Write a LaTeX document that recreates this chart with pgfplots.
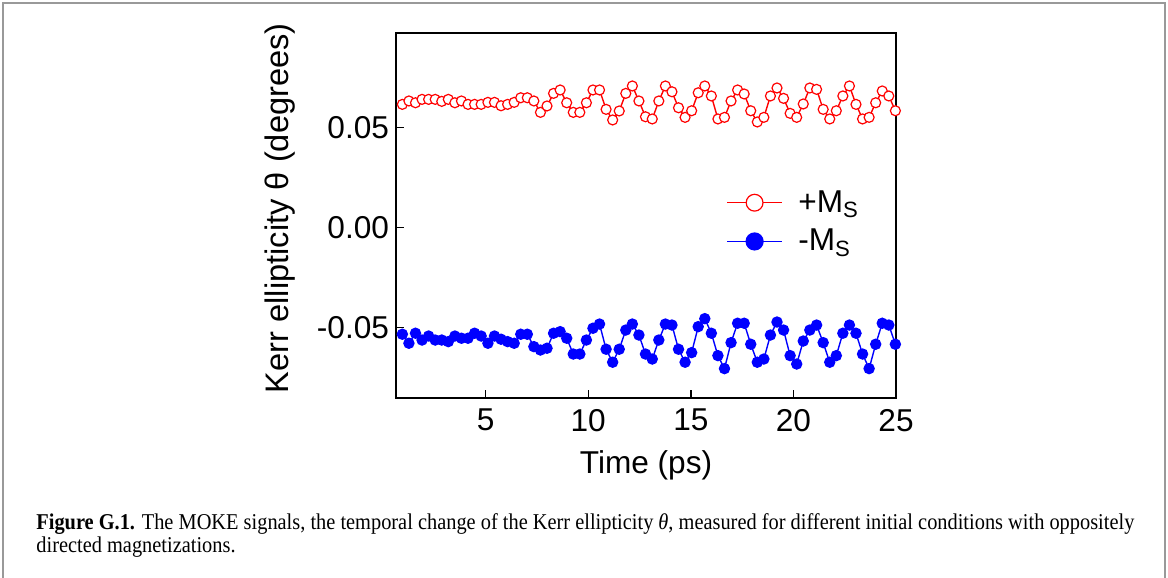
\documentclass[border=0pt]{standalone}
\usepackage{pgfplots}
\pgfplotsset{compat=1.18}
\usepackage{pgfplotstable}
\usepackage{fontspec}
\usepackage{graphicx}
\setmainfont{Liberation Sans}
\newfontfamily\capfont{Liberation Serif}
\newsavebox\capA
\newsavebox\capB

\pgfplotstableread{
t v
0.94 0.0616
1.26 0.0633
1.58 0.0624
1.90 0.0641
2.22 0.0641
2.54 0.0641
2.86 0.0631
3.18 0.0641
3.50 0.0624
3.82 0.0633
4.14 0.0616
4.46 0.0616
4.78 0.0616
5.11 0.0626
5.43 0.0626
5.75 0.0609
6.07 0.0616
6.39 0.0626
6.71 0.0649
7.03 0.0649
7.35 0.0633
7.67 0.0576
7.99 0.0608
8.31 0.0671
8.63 0.0688
8.95 0.0624
9.27 0.0576
9.59 0.0576
9.91 0.0624
10.23 0.0688
10.55 0.0688
10.87 0.0591
11.19 0.0538
11.51 0.0583
11.83 0.0671
12.15 0.0708
12.47 0.0633
12.79 0.0554
13.12 0.0543
13.44 0.0633
13.76 0.0708
14.08 0.0679
14.40 0.0599
14.72 0.0551
15.04 0.0584
15.36 0.0674
15.68 0.0708
16.00 0.0658
16.32 0.0543
16.64 0.0551
16.96 0.0633
17.28 0.0688
17.60 0.0668
17.92 0.0584
18.24 0.0528
18.56 0.0551
18.88 0.0658
19.20 0.0698
19.52 0.0646
19.84 0.0571
20.16 0.0551
20.48 0.0618
20.80 0.0698
21.13 0.0691
21.45 0.0591
21.77 0.0543
22.09 0.0584
22.41 0.0658
22.73 0.0708
23.05 0.0616
23.37 0.0543
23.69 0.0551
24.01 0.0624
24.33 0.0683
24.65 0.0658
24.97 0.0584
}\plusdata

\pgfplotstableread{
t v
0.94 -0.0534
1.26 -0.0579
1.58 -0.0529
1.90 -0.0563
2.22 -0.0543
2.54 -0.0563
2.86 -0.0563
3.18 -0.0571
3.50 -0.0543
3.82 -0.0554
4.14 -0.0554
4.46 -0.0529
4.78 -0.0543
5.11 -0.0579
5.43 -0.0543
5.75 -0.0559
6.07 -0.0571
6.39 -0.0579
6.71 -0.0534
7.03 -0.0534
7.35 -0.0596
7.67 -0.0613
7.99 -0.0604
8.31 -0.0529
8.63 -0.0521
8.95 -0.0554
9.27 -0.0633
9.59 -0.0633
9.91 -0.0563
10.23 -0.0504
10.55 -0.0483
10.87 -0.0609
11.19 -0.0674
11.51 -0.0609
11.83 -0.0513
12.15 -0.0483
12.47 -0.0538
12.79 -0.0633
13.12 -0.0658
13.44 -0.0563
13.76 -0.0483
14.08 -0.0488
14.40 -0.0609
14.72 -0.0674
15.04 -0.0626
15.36 -0.0496
15.68 -0.0456
16.00 -0.0529
16.32 -0.0641
16.64 -0.0706
16.96 -0.0576
17.28 -0.0479
17.60 -0.0479
17.92 -0.0584
18.24 -0.0674
18.56 -0.0658
18.88 -0.0538
19.20 -0.0473
19.52 -0.0513
19.84 -0.0641
20.16 -0.0683
20.48 -0.0568
20.80 -0.0513
21.13 -0.0488
21.45 -0.0576
21.77 -0.0674
22.09 -0.0641
22.41 -0.0529
22.73 -0.0488
23.05 -0.0529
23.37 -0.0633
23.69 -0.0706
24.01 -0.0584
24.33 -0.0479
24.65 -0.0488
24.97 -0.0584
}\minusdata

\definecolor{pred}{RGB}{255,0,0}
\definecolor{pblue}{RGB}{0,0,255}

\begin{document}%
\sbox\capA{\capfont\fontsize{11.3pt}{12.5pt}\selectfont\textbf{Figure G.1.} The MOKE signals, the temporal change of the Kerr ellipticity \textit{θ}, measured for different initial conditions with oppositely}%
\sbox\capB{\capfont\fontsize{11.3pt}{12.5pt}\selectfont directed magnetizations.}%
\pgfmathsetmacro\capscale{549/\the\wd\capA}%
\begin{tikzpicture}
\path[use as bounding box] (0,0) rectangle (584pt,-289pt);
\draw[black!40, line width=1pt] (1.5pt,-290pt) -- (1.5pt,-1.5pt) -- (582.5pt,-1.5pt) -- (582.5pt,-290pt);
\begin{axis}[
  at={(198pt,-199pt)}, anchor=south west,
  scale only axis, width=250pt, height=182.5pt,
  xmin=0.63, xmax=25, ymin=-0.0853, ymax=0.0973,
  xtick={5,10,15,20,25},
  ytick={-0.05,0,0.05},
  yticklabels={-0.05,0.00,0.05},
  scaled y ticks=false,
  xtick pos=left, ytick pos=left,
  tick align=inside, major tick length=4pt,
  axis line style={line width=0.7pt},
  every tick/.style={black, line width=0.7pt},
  /pgf/number format/assume math mode=true,
  tick label style={font=\fontsize{15.8pt}{18pt}\selectfont},
  xticklabel style={yshift=-2pt},
  xlabel={Time (ps)},
  ylabel={Kerr ellipticity θ (degrees)},
  every axis x label/.style={at={(axis description cs:0.5,-0.184)}, anchor=center, font=\fontsize{15.8pt}{18pt}\selectfont},
  every axis y label/.style={at={(axis description cs:-0.232,0.52)}, anchor=center, rotate=90, font=\fontsize{16.3pt}{18pt}\selectfont},
  legend image code/.code={\draw[mark repeat=2,mark phase=2,#1,mark size=4.2pt] plot coordinates {(0pt,0pt) (13.75pt,0pt) (27.5pt,0pt)};},
  legend style={at={(axis description cs:0.66,0.581)}, anchor=north west, draw=none, fill=none,
    font=\fontsize{15.8pt}{18pt}\selectfont, inner sep=0pt, row sep=3pt,
    nodes={inner ysep=2pt, inner xsep=3.8pt, anchor=west}},
  legend cell align=left,
]
\addplot[pred, line width=0.7pt, mark=*, mark size=2.5pt, mark options={fill=white, draw=pred, line width=0.6pt}] table[x=t,y=v] {\plusdata};
\addlegendentry{\hspace{4pt}+M\textsubscript{S}}
\addplot[pblue, line width=0.7pt, mark=*, mark size=2.5pt, mark options={fill=pblue, draw=pblue}] table[x=t,y=v] {\minusdata};
\addlegendentry{\hspace{4pt}-M\textsubscript{S}}
\end{axis}
\node[anchor=base west, inner sep=0pt] at (18pt,-264.5pt) {\scalebox{\capscale}[1]{\usebox\capA}};
\node[anchor=base west, inner sep=0pt] at (18pt,-276pt) {\scalebox{\capscale}[1]{\usebox\capB}};
\end{tikzpicture}%
\end{document}
